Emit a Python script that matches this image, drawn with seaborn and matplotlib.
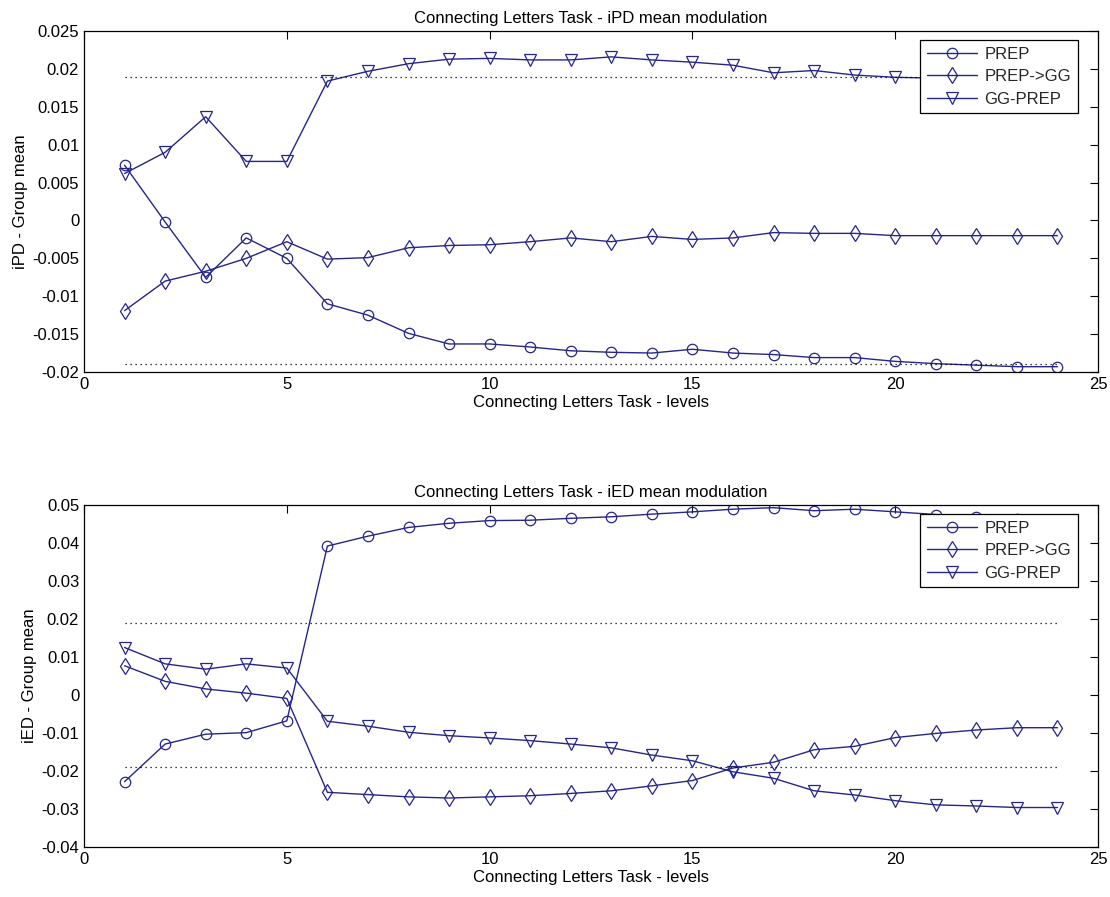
import numpy as np
import pandas as pd
import matplotlib
matplotlib.use("Agg")
import matplotlib.pyplot as plt
from matplotlib.ticker import FuncFormatter, MultipleLocator
import seaborn as sns

# Task levels
levels = list(range(1, 25))

# iPD group means
ipd_prep = [0.0073, -0.0002, -0.0075, -0.0023, -0.0050, -0.0110, -0.0125, -0.0149,
            -0.0163, -0.0163, -0.0167, -0.0172, -0.0174, -0.0175, -0.0170, -0.0175,
            -0.0177, -0.0181, -0.0181, -0.0186, -0.0189, -0.0191, -0.0193, -0.0193]
ipd_prep_gg = [-0.0119, -0.0080, -0.0067, -0.0050, -0.0028, -0.0051, -0.0049, -0.0036,
               -0.0033, -0.0032, -0.0028, -0.0023, -0.0028, -0.0021, -0.0025, -0.0023,
               -0.0016, -0.0017, -0.0017, -0.0020, -0.0020, -0.0020, -0.0020, -0.0020]
ipd_gg_prep = [0.0062, 0.0090, 0.0137, 0.0078, 0.0078, 0.0184, 0.0197, 0.0207,
               0.0213, 0.0214, 0.0212, 0.0212, 0.0216, 0.0212, 0.0209, 0.0205,
               0.0195, 0.0198, 0.0192, 0.0189, 0.0188, 0.0188, 0.0188, 0.0188]

# iED group means
ied_prep = [-0.0228, -0.0129, -0.0103, -0.0099, -0.0068, 0.0392, 0.0418, 0.0441,
            0.0452, 0.0459, 0.0460, 0.0465, 0.0469, 0.0476, 0.0482, 0.0489,
            0.0493, 0.0485, 0.0489, 0.0482, 0.0475, 0.0469, 0.0464, 0.0460]
ied_prep_gg = [0.0077, 0.0036, 0.0016, 0.0005, -0.0009, -0.0256, -0.0262, -0.0268,
               -0.0271, -0.0268, -0.0265, -0.0259, -0.0252, -0.0239, -0.0225, -0.0192,
               -0.0177, -0.0144, -0.0135, -0.0112, -0.0101, -0.0092, -0.0086, -0.0086]
ied_gg_prep = [0.0125, 0.0082, 0.0068, 0.0082, 0.0071, -0.0069, -0.0082, -0.0098,
               -0.0107, -0.0113, -0.0120, -0.0129, -0.0139, -0.0158, -0.0173, -0.0202,
               -0.0219, -0.0252, -0.0263, -0.0278, -0.0289, -0.0292, -0.0296, -0.0296]

# Significance threshold (dotted lines)
threshold = 0.0189

series_names = ["PREP", "PREP->GG", "GG-PREP"]
series_markers = ["o", "d", "v"]
marker_sizes = {"o": 7.5, "d": 8.5, "v": 8.5}

sns.set_theme(style="white")
plt.rcParams["font.family"] = ["Liberation Sans", "DejaVu Sans"]
plt.rcParams["axes.unicode_minus"] = False

LINE = "#25258a"
FS = 12

fig = plt.figure(figsize=(11.10, 8.97), dpi=100)
ax_top = fig.add_axes([0.0757, 0.5853, 0.9135, 0.3800])
ax_bot = fig.add_axes([0.0757, 0.0557, 0.9135, 0.3813])


def draw_panel(ax, values, title, ylabel, ylim, ystep):
    for vals, name, mk in zip(values, series_names, series_markers):
        df = pd.DataFrame({"level": levels, "value": vals})
        sns.lineplot(data=df, x="level", y="value", ax=ax, color=LINE,
                     marker=mk, markersize=marker_sizes[mk], markerfacecolor="none",
                     markeredgecolor=LINE, markeredgewidth=0.9, linewidth=1.0,
                     errorbar=None, label=name)
    for t in (threshold, -threshold):
        ax.hlines(t, levels[0], levels[-1], colors="black", linestyles=(0, (1, 3)),
                  linewidth=0.9)
    ax.set_xlim(0, 25)
    ax.set_ylim(*ylim)
    ax.xaxis.set_major_locator(MultipleLocator(5))
    ax.yaxis.set_major_locator(MultipleLocator(ystep))
    fmt = FuncFormatter(lambda v, _: "0" if abs(v) < 1e-12 else f"{v:g}")
    ax.yaxis.set_major_formatter(fmt)
    ax.tick_params(direction="in", length=6, width=0.8, top=True, right=True,
                   labelsize=FS, colors="black", pad=3.5)
    for sp in ax.spines.values():
        sp.set_color("black")
        sp.set_linewidth(0.9)
    ax.set_title(title, fontsize=FS, pad=6, color="black")
    ax.set_xlabel("Connecting Letters Task - levels", fontsize=FS, labelpad=2, color="black")
    ax.set_ylabel(ylabel, fontsize=FS, labelpad=3, color="black")
    leg = ax.legend(loc="upper right", bbox_to_anchor=(0.980, 0.974), borderaxespad=0,
                    fontsize=FS, frameon=True, fancybox=False, handlelength=3.0,
                    numpoints=1, labelspacing=0.45, borderpad=0.4, handletextpad=0.45)
    leg.get_frame().set_edgecolor("black")
    leg.get_frame().set_linewidth(0.9)
    leg.get_frame().set_alpha(1)


draw_panel(ax_top, [ipd_prep, ipd_prep_gg, ipd_gg_prep],
           "Connecting Letters Task - iPD mean modulation", "iPD - Group mean",
           (-0.02, 0.025), 0.005)
draw_panel(ax_bot, [ied_prep, ied_prep_gg, ied_gg_prep],
           "Connecting Letters Task - iED mean modulation", "iED - Group mean",
           (-0.04, 0.05), 0.01)

fig.savefig("out.png", dpi=100, facecolor="white")
